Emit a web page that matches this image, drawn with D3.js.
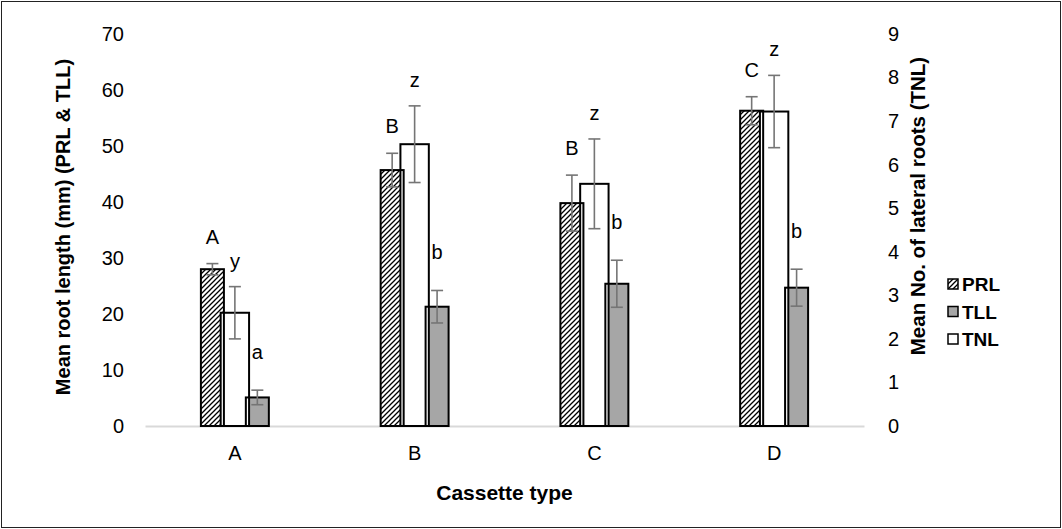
<script src="https://d3js.org/d3.v7.min.js"></script>
<body style="margin:0;background:#fff">
<script>
// chart values
var categories = ["A", "B", "C", "D"];
var prl = [28.0, 45.7, 39.8, 56.3];
var prlErr = [1.0, 3.0, 5.0, 2.5];
var tll = [5.1, 21.3, 25.4, 24.7];
var tllErr = [1.3, 2.9, 4.2, 3.3];
var tnl = [2.6, 6.47, 5.56, 7.22];
var tnlErr = [0.6, 0.88, 1.03, 0.83];
var prlLetters = ["A", "B", "B", "C"];
var tllLetters = ["a", "b", "b", "b"];
var tnlLetters = ["y", "z", "z", "z"];
var leftTicks = [0, 10, 20, 30, 40, 50, 60, 70];
var rightTicks = [0, 1, 2, 3, 4, 5, 6, 7, 8, 9];
var seriesNames = ["PRL", "TLL", "TNL"];

var W = 1062, H = 529;
var plotLeft = 145, plotRight = 864, plotTop = 34, plotBottom = 426;
var font = "Liberation Sans, Arial, sans-serif";

var svg = d3.select("body").append("svg")
    .attr("width", W)
    .attr("height", H)
    .style("font-family", font);

// hatch for PRL
var defs = svg.append("defs");
defs.append("pattern")
    .attr("id", "hatch")
    .attr("patternUnits", "userSpaceOnUse")
    .attr("width", 5).attr("height", 5)
  .call(function(p) {
    p.append("rect").attr("width", 5).attr("height", 5).attr("fill", "#fff");
    p.append("path")
      .attr("d", "M-1,1 l2,-2 M0,5 l5,-5 M4,6 l2,-2")
      .attr("stroke", "#000").attr("stroke-width", 1.3);
  });

// outer frame
svg.append("rect")
    .attr("x", 1.5).attr("y", 1.5)
    .attr("width", W - 3).attr("height", H - 3)
    .attr("fill", "none").attr("stroke", "#222").attr("stroke-width", 1);

var x = d3.scaleBand().domain(categories).range([plotLeft, plotRight]).padding(0);
var yL = d3.scaleLinear().domain([0, 70]).range([plotBottom, plotTop]);
var yR = d3.scaleLinear().domain([0, 9]).range([plotBottom, plotTop]);

var bw = x.bandwidth();
var sideW = bw * 0.128, midW = bw * 0.158, off = bw * 0.125;
var cx = function(i) { return x(categories[i]) + bw / 2; };

// axes
var gx = svg.append("g")
    .attr("transform", "translate(0," + plotBottom + ")")
    .call(d3.axisBottom(x).tickSize(0).tickPadding(20));
gx.select(".domain").attr("stroke", "#d9d9d9").attr("stroke-width", 2);
gx.selectAll("text").style("font-size", "20px").attr("fill", "#000").style("font-family", font);

var gl = svg.append("g")
    .attr("transform", "translate(" + plotLeft + ",0)")
    .call(d3.axisLeft(yL).tickValues(leftTicks).tickSize(0).tickPadding(21));
gl.select(".domain").remove();
gl.selectAll("text").style("font-size", "20px").attr("fill", "#000").style("font-family", font);

var gr = svg.append("g")
    .attr("transform", "translate(" + plotRight + ",0)")
    .call(d3.axisRight(yR).tickValues(rightTicks).tickSize(0).tickPadding(24));
gr.select(".domain").remove();
gr.selectAll("text").style("font-size", "20px").attr("fill", "#000").style("font-family", font);

// bars
var idx = d3.range(categories.length);
var plotG = svg.append("g");

plotG.selectAll(".prl").data(idx).enter().append("rect")
    .attr("x", function(i) { return cx(i) - off - sideW / 2; })
    .attr("y", function(i) { return yL(prl[i]); })
    .attr("width", sideW)
    .attr("height", function(i) { return plotBottom - yL(prl[i]); })
    .attr("fill", "url(#hatch)");

plotG.selectAll(".tll").data(idx).enter().append("rect")
    .attr("x", function(i) { return cx(i) + off - sideW / 2; })
    .attr("y", function(i) { return yL(tll[i]); })
    .attr("width", sideW)
    .attr("height", function(i) { return plotBottom - yL(tll[i]); })
    .attr("fill", "#a6a6a6");

plotG.selectAll(".tnl").data(idx).enter().append("rect")
    .attr("x", function(i) { return cx(i) - midW / 2; })
    .attr("y", function(i) { return yR(tnl[i]); })
    .attr("width", midW)
    .attr("height", function(i) { return plotBottom - yR(tnl[i]); })
    .attr("fill", "#fff").attr("stroke", "#000").attr("stroke-width", 2);

// outlines of the primary bars on top
plotG.selectAll(".prlo").data(idx).enter().append("rect")
    .attr("x", function(i) { return cx(i) - off - sideW / 2; })
    .attr("y", function(i) { return yL(prl[i]); })
    .attr("width", sideW)
    .attr("height", function(i) { return plotBottom - yL(prl[i]); })
    .attr("fill", "none").attr("stroke", "#000").attr("stroke-width", 2);

plotG.selectAll(".tllo").data(idx).enter().append("rect")
    .attr("x", function(i) { return cx(i) + off - sideW / 2; })
    .attr("y", function(i) { return yL(tll[i]); })
    .attr("width", sideW)
    .attr("height", function(i) { return plotBottom - yL(tll[i]); })
    .attr("fill", "none").attr("stroke", "#000").attr("stroke-width", 2);

// error bars
function errBars(vals, errs, scale, dx) {
  var g = plotG.append("g").attr("stroke", "#757575").attr("stroke-width", 1.6);
  idx.forEach(function(i) {
    var xc = cx(i) + dx;
    var y1 = scale(vals[i] + errs[i]), y2 = scale(vals[i] - errs[i]);
    g.append("line").attr("x1", xc).attr("x2", xc).attr("y1", y1).attr("y2", y2);
    g.append("line").attr("x1", xc - 6).attr("x2", xc + 6).attr("y1", y1).attr("y2", y1);
    g.append("line").attr("x1", xc - 6).attr("x2", xc + 6).attr("y1", y2).attr("y2", y2);
  });
}
errBars(prl, prlErr, yL, -off);
errBars(tll, tllErr, yL, off);
errBars(tnl, tnlErr, yR, 0);

// significance letters
function letters(vals, errs, labs, scale, dx, pad) {
  plotG.selectAll(null).data(idx).enter().append("text")
    .attr("x", function(i) { return cx(i) + dx; })
    .attr("y", function(i) { return scale(vals[i] + errs[i]) - pad + 7; })
    .attr("text-anchor", "middle")
    .style("font-size", "20px")
    .text(function(i) { return labs[i]; });
}
letters(prl, prlErr, prlLetters, yL, -off, 27);
letters(tll, tllErr, tllLetters, yL, off, 38);
letters(tnl, tnlErr, tnlLetters, yR, 0, 26);

// axis titles
svg.append("text")
    .attr("transform", "translate(70,227) rotate(-90)")
    .attr("text-anchor", "middle")
    .style("font-size", "20px").style("font-weight", "bold")
    .text("Mean root length (mm) (PRL & TLL)");

svg.append("text")
    .attr("transform", "translate(925,206) rotate(-90)")
    .attr("text-anchor", "middle")
    .style("font-size", "20.5px").style("font-weight", "bold")
    .text("Mean No. of lateral roots (TNL)");

svg.append("text")
    .attr("x", (plotLeft + plotRight) / 2).attr("y", 500)
    .attr("text-anchor", "middle")
    .style("font-size", "21px").style("font-weight", "bold")
    .text("Cassette type");

// legend
var fills = ["url(#hatch)", "#a6a6a6", "#fff"];
var leg = svg.append("g").attr("transform", "translate(948,284)");
seriesNames.forEach(function(name, k) {
  var row = leg.append("g").attr("transform", "translate(0," + (k * 27.5) + ")");
  row.append("rect")
    .attr("x", 0).attr("y", -5).attr("width", 10).attr("height", 10)
    .attr("fill", fills[k]).attr("stroke", "#000").attr("stroke-width", 1.5);
  row.append("text")
    .attr("x", 14).attr("y", 7)
    .style("font-size", "19px").style("font-weight", "bold")
    .text(name);
});
</script>
</body>
